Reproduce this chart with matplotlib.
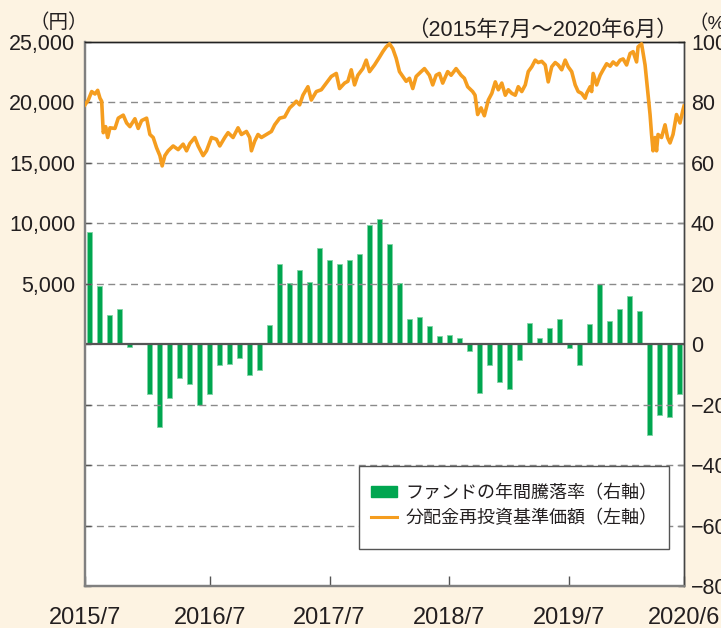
import matplotlib
matplotlib.use("Agg")
import matplotlib.pyplot as plt
from matplotlib.patches import Patch, Rectangle
from matplotlib.lines import Line2D
from matplotlib.ticker import FixedLocator, FixedFormatter

# ---- data ----
# monthly annual return (%) of the fund, 2015/7 .. 2020/6 (right axis)
bar_returns = [37.2, 19.4, 9.8, 11.5, -1.0, 0.5, -16.6, -27.3, -17.9, -11.2,
               -13.1, -20.1, -16.5, -6.8, -6.6, -4.7, -10.3, -8.6, 6.4, 26.4,
               20.3, 24.6, 20.6, 32.0, 27.9, 26.4, 27.8, 29.9, 39.6, 41.5,
               33.2, 20.4, 8.5, 8.9, 6.1, 2.8, 3.0, 2.1, -2.1, -16.3,
               -6.9, -12.5, -14.9, -5.2, 7.1, 2.2, 5.5, 8.5, -1.3, -6.8,
               6.8, 19.8, 7.7, 11.8, 16.0, 10.9, -30.0, -23.5, -24.0, -16.5]

# NAV with dividends reinvested (yen, left axis); time in months since 2015/7
nav_months = [0, 0.33, 0.67, 1.0, 1.27, 1.5, 1.67, 1.83, 2.07, 2.27, 2.5, 3.0, 3.33,
              3.83, 4.17, 4.5, 5.0, 5.33, 5.67, 6.17, 6.5, 6.83, 7.17, 7.5, 7.73,
              8.0, 8.33, 8.83, 9.33, 9.83, 10.17, 10.5, 11.0, 11.33, 11.83, 12.17,
              12.67, 13.17, 13.5, 14.0, 14.33, 14.83, 15.33, 15.67, 16.17, 16.5,
              16.67, 17.0, 17.33, 17.67, 18.17, 18.67, 19.0, 19.5, 20.0,
              20.5, 20.83, 21.17, 21.5, 21.83, 22.33, 22.67, 23.17, 23.67, 24.17,
              24.67, 25.17, 25.5, 26.0, 26.33, 26.67, 27.0, 27.33, 27.83, 28.17,
              28.5, 29.0, 29.5, 29.83, 30.17, 30.5, 30.83, 31.17, 31.5, 31.83,
              32.17, 32.5, 32.83, 33.17, 33.67, 34.0, 34.5, 34.83, 35.17, 35.5,
              35.83, 36.33, 36.67, 37.17, 37.67, 38.0, 38.33, 38.83, 39.07, 39.33,
              39.67, 40.0,
              40.4, 40.75, 41.1, 41.4, 41.75, 42.1, 42.4, 42.75, 43.1, 43.4, 43.75,
              44.1, 44.4, 44.75, 45.1, 45.4, 45.75, 46.1, 46.4, 46.75, 47.1, 47.4,
              47.75, 48.1, 48.4, 48.75, 49.1, 49.4, 49.75, 50.1, 50.25, 50.6, 50.75,
              50.9, 51.25, 51.6, 51.9, 52.25, 52.6, 52.9, 53.25, 53.6, 53.9, 54.25,
              54.6, 54.9, 55.25, 55.4, 55.75, 56.1, 56.3, 56.6, 56.75, 56.9, 57.1,
              57.25, 57.4, 57.75, 58.1, 58.35, 58.6, 58.9, 59.25, 59.6, 59.9, 60.0]
nav_values = [19800, 20200, 20900, 20700, 21000, 20350, 20100, 17500, 18000, 17100,
              17900, 17850, 18700, 18950, 18300, 18000, 18650, 17850, 18500, 18700,
              17350, 17100, 16250, 15600, 14750, 15600, 16000, 16400, 16100, 16550,
              16000, 16600, 17100, 16400, 15600, 16000, 17100, 16950, 16400, 17100,
              17500, 17100, 17900, 17350, 17600, 17100, 16000, 16800, 17350, 17100,
              17350, 17600, 18150, 18700, 18800,
              19550, 19800, 20100, 19800, 20600, 21300, 20200, 20900, 21050, 21600,
              22150, 22400, 21150, 21600, 21750, 22700, 21450, 22250, 22800, 23500,
              22550, 23100, 23750, 24200, 24600, 24850, 24450, 23650, 22550, 22150,
              21750, 22000, 21150, 22150, 22550, 22800, 22250, 21450, 22250, 22400,
              21600, 22550, 22250, 22800, 22250, 22000, 21300, 20900, 20600, 19000,
              19550, 18900,
              20200, 20750, 21700, 21050, 21600, 20600, 21050, 20750, 20600, 21300,
              20900, 21450, 22550, 22950, 23500, 23300, 23400, 23100, 21700, 22950,
              23300, 23100, 22700, 23500, 22950, 22550, 21450, 20900, 20750, 20350,
              20750, 21300, 20900, 22400, 21450, 22250, 22700, 23200, 23000, 23350,
              23100, 23500, 23600, 23100, 24050, 24200, 23350, 24600, 24850, 23100,
              21450, 19000, 17350, 16000, 17100, 16000, 17350, 17100, 18150, 17100,
              16650, 17350, 19000, 18300, 19400, 19700]

xtick_pos = [0, 12.5, 24.5, 36.5, 48.5, 60]
xtick_labels = ["2015/7", "2016/7", "2017/7", "2018/7", "2019/7", "2020/6"]
left_ticks = [-20000, -15000, -10000, -5000, 0, 5000, 10000, 15000, 20000, 25000]
left_labels = ["", "", "", "", "", "5,000", "10,000", "15,000", "20,000", "25,000"]
right_ticks = [-80, -60, -40, -20, 0, 20, 40, 60, 80, 100]
right_labels = ["\u221280", "\u221260", "\u221240", "\u221220", "0", "20", "40", "60", "80", "100"]

BG = "#fdf3e2"
GREEN = "#00a650"
ORANGE = "#f59d1f"
TXT = "#231f20"
NUMFONT = ["Liberation Sans", "Noto Sans CJK JP"]
JPFONT = ["Noto Sans CJK JP", "DejaVu Sans"]

W, H = 721, 628
fig = plt.figure(figsize=(W / 100, H / 100), dpi=100, facecolor=BG)
ax2 = fig.add_axes([85/W, 1-586/H, (684-85)/W, (586-42)/H])
ax2.set_facecolor("white")
ax = ax2.twinx()      # left-value axis on top (moved to left side)
ax.yaxis.tick_left()
ax2.yaxis.tick_right()
ax2.yaxis.set_label_position("right")

ax2.set_xlim(0, 60)
ax.set_ylim(-20000, 25000)
ax2.set_ylim(-80, 100)

# grid lines
for v in [-15000, -10000, -5000, 5000, 10000, 15000, 20000]:
    ax.axhline(v, color="#8a8a8a", lw=1.0, ls=(0, (5, 3.2)), zorder=1)

# bars (right axis)
months = [i + 0.5 for i in range(len(bar_returns))]
ax2.bar(months, bar_returns, width=0.5, color=GREEN, edgecolor="#80d4a4",
        linewidth=0.6, zorder=2)
ax2.axhline(0, color="#555555", lw=1.6, zorder=3)

# line (left axis)
ax.plot(nav_months, nav_values, color=ORANGE, lw=2.6, zorder=4,
        solid_joinstyle="round")
ax.patch.set_visible(False)

# spines
for a in (ax, ax2):
    a.spines["left"].set_color("#808080")
    a.spines["left"].set_linewidth(1.6)
    a.spines["bottom"].set_color("#808080")
    a.spines["bottom"].set_linewidth(1.6)
    a.spines["top"].set_color("#222222")
    a.spines["top"].set_linewidth(1.0)
    a.spines["right"].set_color("#444444")
    a.spines["right"].set_linewidth(1.0)

ax2.xaxis.set_major_locator(FixedLocator(xtick_pos))
ax2.xaxis.set_major_formatter(FixedFormatter(xtick_labels))
ax2.tick_params(axis="x", direction="in", length=7.5, width=1.0, color="#555555",
                pad=15, labelsize=17, labelcolor=TXT)
ax.yaxis.set_major_locator(FixedLocator(left_ticks))
ax.yaxis.set_major_formatter(FixedFormatter(left_labels))
ax.tick_params(axis="y", direction="in", length=4.5, width=1.0, color="#555555",
               pad=7, labelsize=15.5, labelcolor=TXT, left=True, right=False,
               labelleft=True, labelright=False)
ax2.yaxis.set_major_locator(FixedLocator(right_ticks))
ax2.yaxis.set_major_formatter(FixedFormatter(right_labels))
ax2.tick_params(axis="y", direction="in", length=4.5, width=1.0, color="#555555",
                pad=5, labelsize=15.5, labelcolor=TXT, left=False, right=True,
                labelleft=False, labelright=True)
for lab in ax2.get_xticklabels() + ax.get_yticklabels() + ax2.get_yticklabels():
    lab.set_fontfamily(NUMFONT)

# header texts
fig.text(59/W, 1-23/H, "（円）", ha="center", va="center", fontsize=14,
         family=JPFONT, color=TXT)
fig.text(542/W, 1-30/H, "（2015年7月～2020年6月）", ha="center", va="center",
         fontsize=15.5, family=NUMFONT, color=TXT)
fig.text(688/W, 1-24/H, "（%）", ha="left", va="center", fontsize=14,
         family=NUMFONT, color=TXT)

# legend frame drawn explicitly
frame = Rectangle((359/W, 1-549/H), (669-359)/W, (549-466)/H,
                  transform=fig.transFigure, facecolor="white",
                  edgecolor="#555555", linewidth=1.0, zorder=9)
ax.add_artist(frame)
frame.set_clip_on(False)

handles = [Patch(facecolor=GREEN, edgecolor=GREEN),
           Line2D([0], [0], color=ORANGE, lw=2.2)]
labels = ["ファンドの年間騰落率（右軸）", "分配金再投資基準価額（左軸）"]
leg = ax.legend(handles, labels, loc="upper left",
                bbox_to_anchor=(371/W, 1-484/H), bbox_transform=fig.transFigure,
                prop={"family": JPFONT, "size": 13}, frameon=False,
                handlelength=1.45, handleheight=0.6, handletextpad=0.45,
                labelspacing=0.38, borderpad=0, borderaxespad=0)
for t in leg.get_texts():
    t.set_color(TXT)
leg.set_zorder(10)

fig.savefig("out.png", dpi=100, facecolor=BG)
